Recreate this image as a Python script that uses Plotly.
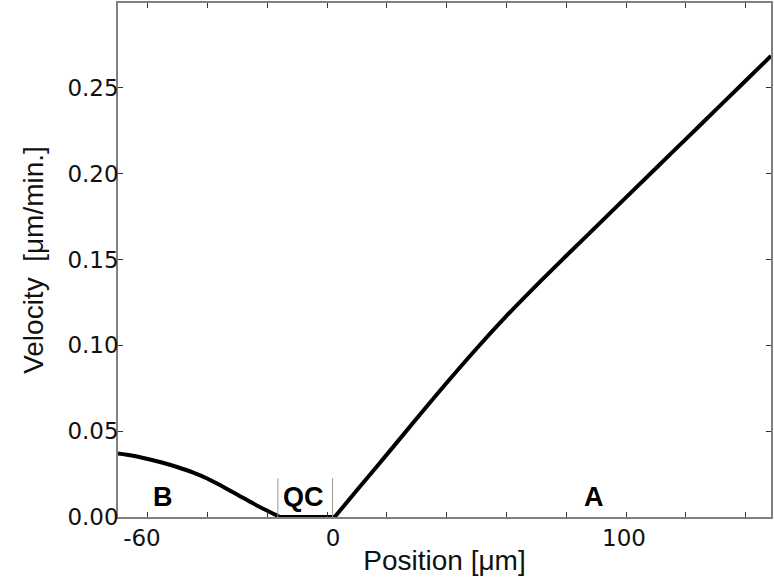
import plotly.graph_objects as go

# velocity profile along the root
POS_B = [-70, -65, -60, -55, -50, -45, -40, -35, -30, -25, -20, -15.8]
VEL_B = [0.037, 0.0357, 0.0338, 0.0316, 0.0290, 0.0260, 0.0223, 0.0178, 0.0130, 0.0081, 0.0036, 0.0]

POS_QC = [-15.8, 2.5]
VEL_QC = [0.0, 0.0]

POS_A = [2.5, 10, 20, 30, 40, 50, 60, 70, 80, 90, 100, 110, 120, 130, 140, 148.5]
VEL_A = [0.0, 0.0157, 0.0365, 0.0575, 0.0782, 0.0982, 0.1172, 0.1350, 0.1522,
         0.1692, 0.1862, 0.2032, 0.2202, 0.2372, 0.2542, 0.2687]

ZONE_EDGES = [-16.5, 1.8]
ZONE_LABELS = ["B", "QC", "A"]
ZONE_LABEL_X = [-54.8, -7.8, 89.2]

MINOR_X = list(range(-60, 141, 20))
LABEL_X = [-62, 2, 99.3]
LABEL_X_TEXT = ["-60", "0", "100"]
Y_TICKS = [0.0, 0.05, 0.10, 0.15, 0.20, 0.25]

AXIS = "#808080"
TICKFONT = dict(family="DejaVu Sans", size=23, color="#111111")
TITLEFONT = dict(family="Liberation Sans, Arial", size=28, color="#111111")

fig = go.Figure()
fig.add_trace(go.Scatter(x=POS_B, y=VEL_B, mode="lines", line=dict(color="black", width=4, shape="spline"),
                         showlegend=False, hoverinfo="skip"))
fig.add_trace(go.Scatter(x=POS_QC, y=VEL_QC, mode="lines", line=dict(color="black", width=4),
                         showlegend=False, hoverinfo="skip"))
fig.add_trace(go.Scatter(x=POS_A, y=VEL_A, mode="lines", line=dict(color="black", width=4, shape="spline"),
                         showlegend=False, hoverinfo="skip"))

for xe in ZONE_EDGES:
    fig.add_shape(type="line", xref="x", yref="y", x0=xe, x1=xe, y0=0, y1=0.0226,
                  line=dict(color="#9a9a9a", width=1))

for lab, lx in zip(ZONE_LABELS, ZONE_LABEL_X):
    fig.add_annotation(x=lx, y=0.0118, text=f"<b>{lab}</b>", showarrow=False,
                       font=dict(family="Liberation Sans, Arial", size=27, color="black"))

fig.update_layout(
    width=774, height=587,
    margin=dict(l=118, r=1, t=1, b=70),
    paper_bgcolor="white", plot_bgcolor="white",
    xaxis=dict(range=[-70, 148.5], tickmode="array", tickvals=LABEL_X, ticktext=LABEL_X_TEXT,
               ticks="inside", ticklen=0,
               minor=dict(tickmode="array", tickvals=MINOR_X, ticks="inside", ticklen=5,
                          tickcolor="#333333", tickwidth=1, showgrid=False),
               showline=True, linecolor=AXIS, linewidth=1.5, mirror="ticks",
               showgrid=False, zeroline=False, tickfont=TICKFONT,
               ticklabelstandoff=0,
               title=dict(text="Position [μm]", font=TITLEFONT, standoff=0)),
    yaxis=dict(range=[0, 0.2995], tickvals=Y_TICKS, tickformat=".2f",
               ticks="inside", ticklen=5, tickcolor="#333333", tickwidth=1,
               showline=True, linecolor=AXIS, linewidth=1.5, mirror="ticks",
               showgrid=False, zeroline=False, tickfont=TICKFONT,
               ticklabelstandoff=-7,
               title=dict(text="Velocity  [μm/min.]", font=TITLEFONT, standoff=16)),
)

fig.write_html("out.html", config={"displayModeBar": False},
               post_script="document.body.style.margin='0';")
